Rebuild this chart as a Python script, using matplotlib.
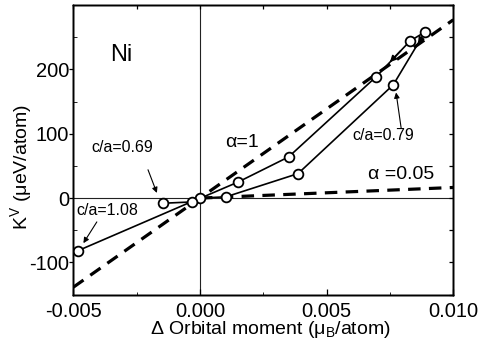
import matplotlib
matplotlib.use("Agg")
import matplotlib.pyplot as plt
from matplotlib.ticker import MultipleLocator

plt.rcParams['font.family'] = ['Liberation Sans', 'DejaVu Sans']
plt.rcParams['axes.unicode_minus'] = False
plt.rcParams['lines.scale_dashes'] = False

# K^V versus change of orbital moment along the c/a path
orb_moment = [-0.00483, 0.0, 0.00103, 0.00387, 0.00763, 0.00888,
              0.00829, 0.00694, 0.00350, 0.00151, -0.00033, -0.00145]
kv = [-82, 0, 2, 38, 176, 258, 244, 188, 64, 25, -6, -8]

# reference lines K = slope * delta_m
alpha1_x = [-0.005, 0.010]
alpha1_slope = 27700
alpha005_x = [0.0, 0.010]
alpha005_slope = 1650

xticks = [-0.005, 0.000, 0.005, 0.010]
xticklabels = ['-0.005', '0.000', '0.005', '0.010']
yticks = [-100, 0, 100, 200]
yticklabels = ['-100', '0', '100', '200']

fig = plt.figure(figsize=(4.82, 3.55), dpi=100)
ax = fig.add_axes([0.152, 0.170, 0.7885, 0.816])
ax.set_xlim(-0.005, 0.010)
ax.set_ylim(-150, 300)

ax.axhline(0, color='#222222', lw=0.8, zorder=1)
ax.axvline(0, color='#222222', lw=0.8, zorder=1)

ax.plot(alpha1_x, [alpha1_slope * v for v in alpha1_x], color='black',
        lw=2.3, dashes=(9, 6), zorder=2)
ax.plot(alpha005_x, [alpha005_slope * v for v in alpha005_x], color='black',
        lw=2.3, dashes=(9, 6), zorder=2)

ax.plot(orb_moment, kv, color='black', lw=1.2, marker='o', ms=7,
        mfc='white', mec='black', mew=1.3, zorder=3)

# direction arrows along the two upper branches
arrow_kw = dict(arrowstyle='-|>', color='black', lw=1.2, mutation_scale=9)
ax.annotate('', xy=(0.00742, 208), xytext=(0.00800, 232), arrowprops=arrow_kw, zorder=4)
ax.annotate('', xy=(0.00855, 236), xytext=(0.00878, 251), arrowprops=arrow_kw, zorder=4)

# labels
ax.text(-0.00310, 222, 'Ni', fontsize=17, ha='center', va='center')
ax.text(0.00165, 87, 'α=1', fontsize=14, ha='center', va='center')
ax.text(0.00794, 37, 'α =0.05', fontsize=14, ha='center', va='center')

ax.text(-0.00308, 79, 'c/a=0.69', fontsize=11.5, ha='center', va='center')
ax.text(-0.00365, -19, 'c/a=1.08', fontsize=11.5, ha='center', va='center')
ax.text(0.00724, 98, 'c/a=0.79', fontsize=11.5, ha='center', va='center')

ptr_kw = dict(arrowstyle='-|>', color='black', lw=0.8, mutation_scale=8,
              shrinkA=0, shrinkB=0)
ax.annotate('', xy=(-0.00170, 8), xytext=(-0.00205, 44), arrowprops=ptr_kw)
ax.annotate('', xy=(-0.00460, -70), xytext=(-0.00407, -37), arrowprops=ptr_kw)
ax.annotate('', xy=(0.00774, 164), xytext=(0.00794, 109), arrowprops=ptr_kw)

ax.set_xticks(xticks)
ax.set_xticklabels(xticklabels)
ax.set_yticks(yticks)
ax.set_yticklabels(yticklabels)
ax.xaxis.set_minor_locator(MultipleLocator(0.0025))
ax.yaxis.set_minor_locator(MultipleLocator(50))
ax.tick_params(axis='both', labelsize=14.5, width=0.9, color='black')
ax.tick_params(axis='y', which='major', direction='out', length=3, pad=0,
               left=True, right=False)
ax.tick_params(axis='y', which='minor', direction='in', length=3,
               left=True, right=False)
ax.tick_params(axis='x', which='major', direction='in', length=4, pad=5,
               bottom=True, top=False)
ax.tick_params(axis='x', which='minor', direction='in', length=2.5,
               bottom=True, top=False)

# inward ticks on the top and right frame
ax_r = ax.twinx()
ax_r.set_ylim(ax.get_ylim())
ax_r.yaxis.set_major_locator(MultipleLocator(50))
ax_r.tick_params(axis='y', direction='in', length=3, width=0.9, labelright=False)
ax_t = ax.twiny()
ax_t.set_xlim(ax.get_xlim())
ax_t.xaxis.set_major_locator(MultipleLocator(0.0025))
ax_t.tick_params(axis='x', direction='in', length=3, width=0.9, labeltop=False)

for a in (ax, ax_r, ax_t):
    for s in a.spines.values():
        s.set_linewidth(1.0)

ax.set_xlabel('Δ Orbital moment (μ$_\\mathregular{B}$/atom)', fontsize=14)
ax.xaxis.set_label_coords(0.518, -0.083)
ax.set_ylabel('K$^\\mathregular{V}$ (μeV/atom)', fontsize=14)
ax.yaxis.set_label_coords(-0.100, 0.44)

fig.savefig('out.png', dpi=100)
